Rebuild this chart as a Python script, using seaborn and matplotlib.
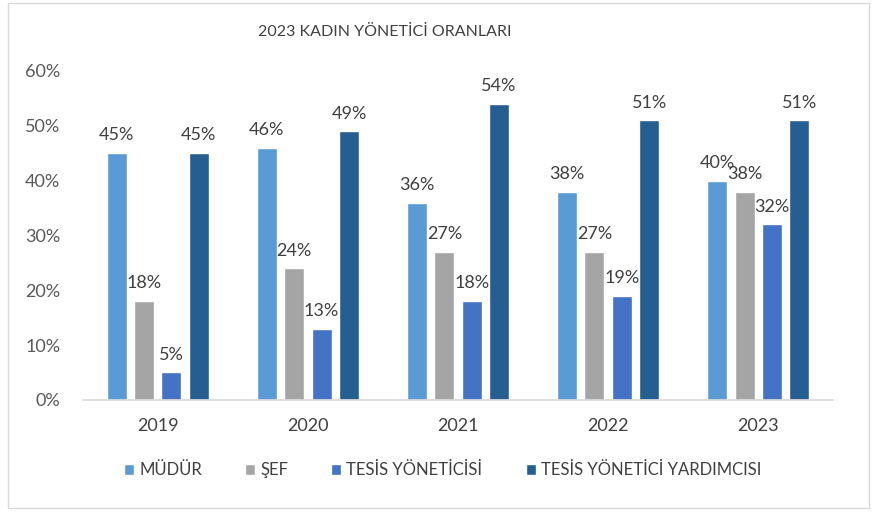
import pandas as pd
import matplotlib
matplotlib.use("Agg")
import matplotlib.pyplot as plt
import seaborn as sns
from matplotlib.ticker import PercentFormatter
from matplotlib.patches import Rectangle

# data (percent)
years = ["2019", "2020", "2021", "2022", "2023"]
roles = ["MÜDÜR", "ŞEF", "TESİS YÖNETİCİSİ", "TESİS YÖNETİCİ YARDIMCISI"]
mudur = [45, 46, 36, 38, 40]
sef = [18, 24, 27, 27, 38]
tesis_yon = [5, 13, 18, 19, 32]
tesis_yard = [45, 49, 54, 51, 51]
colors = ["#5B9BD5", "#A5A5A5", "#4472C4", "#255E91"]

rows = []
for role, vals in zip(roles, [mudur, sef, tesis_yon, tesis_yard]):
    for y, v in zip(years, vals):
        rows.append({"Yıl": y, "Rol": role, "Oran": v})
df = pd.DataFrame(rows)

sns.set_theme(style="white")
plt.rcParams['font.family'] = ['Lato', 'DejaVu Sans']

fig = plt.figure(figsize=(8.8, 5.14), dpi=100)
ax = fig.add_axes([0.094, 0.222, 0.853, 0.64])

sns.barplot(data=df, x="Yıl", y="Oran", hue="Rol", hue_order=roles,
            palette=colors, width=0.73, gap=0.27, ax=ax, saturation=1)

for cont in ax.containers:
    ax.bar_label(cont, fmt="{:.0f}%", padding=7, fontsize=13, color="#404040")

ax.set_ylim(0, 60)
ax.set_xlim(-0.5, 4.5)
ax.set_yticks(range(0, 61, 10))
ax.yaxis.set_major_formatter(PercentFormatter(100, decimals=0))
ax.set_xlabel("")
ax.set_ylabel("")
ax.tick_params(axis="y", labelsize=13, labelcolor="#595959", pad=16, length=0)
ax.tick_params(axis="x", labelsize=13, labelcolor="#404040", pad=13, length=0)
for s in ["top", "right", "left"]:
    ax.spines[s].set_visible(False)
ax.spines["bottom"].set_color("#D9D9D9")

handles, labels = ax.get_legend_handles_labels()
ax.get_legend().remove()
fig.legend(handles, labels, loc="center", bbox_to_anchor=(0.503, 0.085), ncol=4,
           frameon=False, fontsize=12, handlelength=0.6, handleheight=0.6,
           handletextpad=0.3, columnspacing=2.6, labelcolor="#404040")

fig.text(0.4375, 0.938, "2023 KADIN YÖNETİCİ ORANLARI", ha="center", va="center",
         fontsize=11.5, color="#404040")

# thin frame around the chart area
fig.patches.append(Rectangle((0.009, 0.012), 0.978, 0.982, transform=fig.transFigure,
                             fill=False, edgecolor="#D9D9D9", linewidth=1))

fig.savefig("out.png", dpi=100)
